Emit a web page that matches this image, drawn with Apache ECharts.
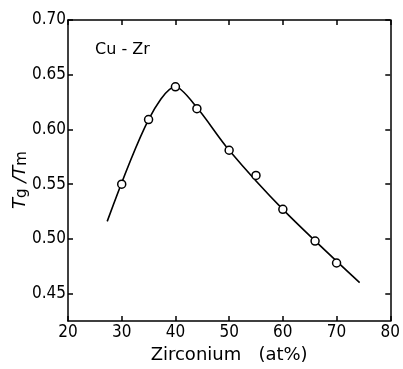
<!DOCTYPE html>
<html>
<head>
<meta charset="utf-8">
<script src="https://cdn.jsdelivr.net/npm/echarts@6/dist/echarts.min.js"></script>
<style>html,body{margin:0;padding:0;background:#fff}#c{width:403px;height:369px}</style>
</head>
<body>
<div id="c"></div>
<script>
// Data
const zrPoints = [30, 35, 40, 44, 50, 55, 60, 66, 70];
const ratioPoints = [0.550, 0.609, 0.639, 0.619, 0.581, 0.558, 0.527, 0.498, 0.478];
const curveX = [27.3, 35, 40, 44, 50, 60, 74.3];
const curveY = [0.516, 0.609, 0.639, 0.620, 0.581, 0.527, 0.460];
const xTicks = [20, 30, 40, 50, 60, 70, 80];
const yTicks = [0.45, 0.50, 0.55, 0.60, 0.65, 0.70];
const systemLabel = 'Cu - Zr';

const FONT = '"DejaVu Sans Condensed", "DejaVu Sans", sans-serif';
const FONT2 = '"DejaVu Sans", sans-serif';
const chart = echarts.init(document.getElementById('c'), null, {renderer: 'canvas'});

const axLine = {show: true, lineStyle: {color: '#000', width: 1.5}};
const tick = {show: true, inside: true, length: 5, lineStyle: {color: '#000', width: 1.5}};

chart.setOption({
  animation: false,
  backgroundColor: '#fff',
  grid: {left: 68, top: 20, right: 10, bottom: 45, containLabel: false},
  xAxis: [
    {type: 'value', min: 20, max: 80, interval: 10, position: 'bottom',
     axisLine: axLine, axisTick: tick, splitLine: {show: false},
     axisLabel: {color: '#000', fontFamily: FONT, fontSize: 17, margin: 3},
     name: 'Zirconium   (at%)', nameLocation: 'middle', nameGap: 25,
     nameTextStyle: {color: '#000', fontFamily: FONT2, fontSize: 18}},
    {type: 'value', min: 20, max: 80, interval: 10, position: 'top',
     axisLine: axLine, axisTick: tick, splitLine: {show: false},
     axisLabel: {show: false}}
  ],
  yAxis: [
    {type: 'value', min: 0.425, max: 0.70, position: 'left',
     axisLine: axLine, splitLine: {show: false},
     axisTick: Object.assign({}, tick, {customValues: yTicks}),
     axisLabel: {customValues: yTicks, color: '#000', fontFamily: FONT, fontSize: 17, margin: 2,
                 formatter: v => v.toFixed(2)}},
    {type: 'value', min: 0.425, max: 0.70, position: 'right',
     axisLine: axLine, splitLine: {show: false},
     axisTick: Object.assign({}, tick, {customValues: yTicks}),
     axisLabel: {show: false}}
  ],
  graphic: [
    {type: 'text', left: 95, top: 42,
     style: {text: systemLabel, font: '16px ' + FONT2, fill: '#000'}},
    {type: 'text', x: 9, y: 209, rotation: Math.PI / 2,
     style: {
       text: '{t|T}{s|g}{t| /T}{s|m}',
       fill: '#000',
       rich: {
         t: {fontFamily: FONT2, fontSize: 18, fontStyle: 'italic', fill: '#000', lineHeight: 22},
         s: {fontFamily: FONT2, fontSize: 15, fill: '#000', lineHeight: 22, padding: [4, 0, 0, 0]}
       }
     }}
  ],
  series: [
    {type: 'line', xAxisIndex: 0, yAxisIndex: 0, smooth: 0.3, showSymbol: false,
     lineStyle: {color: '#000', width: 1.6},
     data: curveX.map((x, i) => [x, curveY[i]]), z: 2},
    {type: 'scatter', xAxisIndex: 0, yAxisIndex: 0, symbol: 'circle', symbolSize: 8,
     itemStyle: {color: '#fff', borderColor: '#000', borderWidth: 1.5, opacity: 1},
     data: zrPoints.map((x, i) => [x, ratioPoints[i]]), z: 3}
  ]
});
</script>
</body>
</html>
